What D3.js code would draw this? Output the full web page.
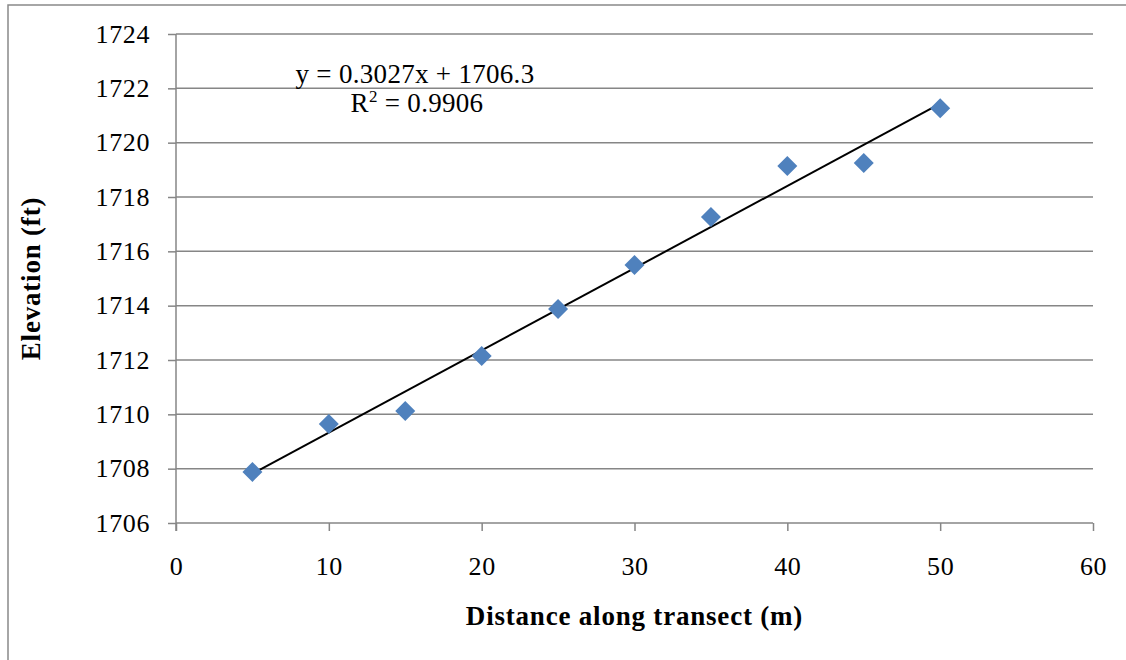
<!DOCTYPE html>
<html>
<head>
<meta charset="utf-8">
<script src="https://cdn.jsdelivr.net/npm/d3@7"></script>
<style>
body { margin: 0; background: #fff; }
svg text { font-family: "Liberation Serif", "DejaVu Serif", serif; fill: #000; }
</style>
</head>
<body>
<svg id="chart" width="1126" height="660"></svg>
<script>
// distance along transect (m)
var distance = [5, 10, 15, 20, 25, 30, 35, 40, 45, 50]
// elevation (ft)
var elevation = [1707.88, 1709.64, 1710.12, 1712.15, 1713.88, 1715.5, 1717.26, 1719.14, 1719.25, 1721.27]
var xTicks = [0, 10, 20, 30, 40, 50, 60]
var yTicks = [1706, 1708, 1710, 1712, 1714, 1716, 1718, 1720, 1722, 1724]
var trendSlope = 0.3027, trendIntercept = 1706.3
var trendLabel = ['y = 0.3027x + 1706.3', 'R', '2', ' = 0.9906']

var svg = d3.select('#chart')
var plotLeft = 176, plotRight = 1093, plotTop = 34, plotBottom = 523

// outer frame
svg.append('rect')
    .attr('x', 8).attr('y', 5)
    .attr('width', 1140).attr('height', 680)
    .attr('fill', 'none').attr('stroke', '#898989').attr('stroke-width', 1.5)

var x = d3.scaleLinear().domain([0, 60]).range([plotLeft, plotRight])
var y = d3.scaleLinear().domain([1706, 1724]).range([plotBottom, plotTop])

// gridlines
svg.selectAll('.grid')
    .data(yTicks.slice(1))
    .join('line')
    .attr('class', 'grid')
    .attr('x1', plotLeft).attr('x2', plotRight)
    .attr('y1', d => y(d)).attr('y2', d => y(d))
    .attr('stroke', '#868686').attr('stroke-width', 1.5)

var yAxis = d3.axisLeft(y).tickValues(yTicks).tickSize(8).tickPadding(18).tickFormat(d3.format('d'))
var xAxis = d3.axisBottom(x).tickValues(xTicks).tickSize(8).tickPadding(26).tickFormat(d3.format('d'))

var gy = svg.append('g').attr('transform', `translate(${plotLeft},0)`).call(yAxis)
var gx = svg.append('g').attr('transform', `translate(0,${plotBottom})`).call(xAxis)
;[gx, gy].forEach(function (g) {
    g.select('.domain').attr('stroke', '#868686').attr('stroke-width', 1.5)
    g.selectAll('.tick line').attr('stroke', '#868686').attr('stroke-width', 1.5)
    g.selectAll('.tick text')
        .attr('font-family', '"Liberation Serif", serif')
        .attr('font-size', 26).attr('letter-spacing', 0.6).attr('fill', '#000')
})
// y axis line reaches down past the x axis like the tick
gy.select('.domain').attr('d', `M0,${plotTop}V${plotBottom + 8}`)
gx.select('.domain').attr('d', `M${plotLeft},0H${plotRight}`)

// trendline
var x0 = d3.min(distance), x1 = d3.max(distance)
svg.append('line')
    .attr('x1', x(x0)).attr('y1', y(trendSlope * x0 + trendIntercept))
    .attr('x2', x(x1)).attr('y2', y(trendSlope * x1 + trendIntercept))
    .attr('stroke', '#000').attr('stroke-width', 2)

// markers
var diamond = d3.symbol().type(d3.symbolSquare).size(200)
svg.selectAll('.pt')
    .data(distance)
    .join('path')
    .attr('class', 'pt')
    .attr('d', diamond)
    .attr('transform', (d, i) => `translate(${x(d)},${y(elevation[i])}) rotate(45)`)
    .attr('fill', '#4F81BD')

// equation label
svg.append('text')
    .attr('x', 415).attr('y', 83)
    .attr('text-anchor', 'middle')
    .attr('font-size', 27).attr('letter-spacing', 0.3)
    .text(trendLabel[0])
var r2 = svg.append('text')
    .attr('x', 417).attr('y', 112)
    .attr('text-anchor', 'middle')
    .attr('font-size', 27).attr('letter-spacing', 0.3)
r2.append('tspan').text(trendLabel[1])
r2.append('tspan').attr('dy', -10).attr('font-size', 17).text(trendLabel[2])
r2.append('tspan').attr('dy', 10).text(trendLabel[3])

// axis titles
svg.append('text')
    .attr('x', (plotLeft + plotRight) / 2).attr('y', 625)
    .attr('text-anchor', 'middle')
    .attr('font-size', 27).attr('font-weight', 'bold').attr('letter-spacing', 0.8)
    .text('Distance along transect (m)')
svg.append('text')
    .attr('transform', `translate(40,${(plotTop + plotBottom) / 2}) rotate(-90)`)
    .attr('text-anchor', 'middle')
    .attr('font-size', 27).attr('font-weight', 'bold').attr('letter-spacing', 0.8)
    .text('Elevation (ft)')
</script>
</body>
</html>
